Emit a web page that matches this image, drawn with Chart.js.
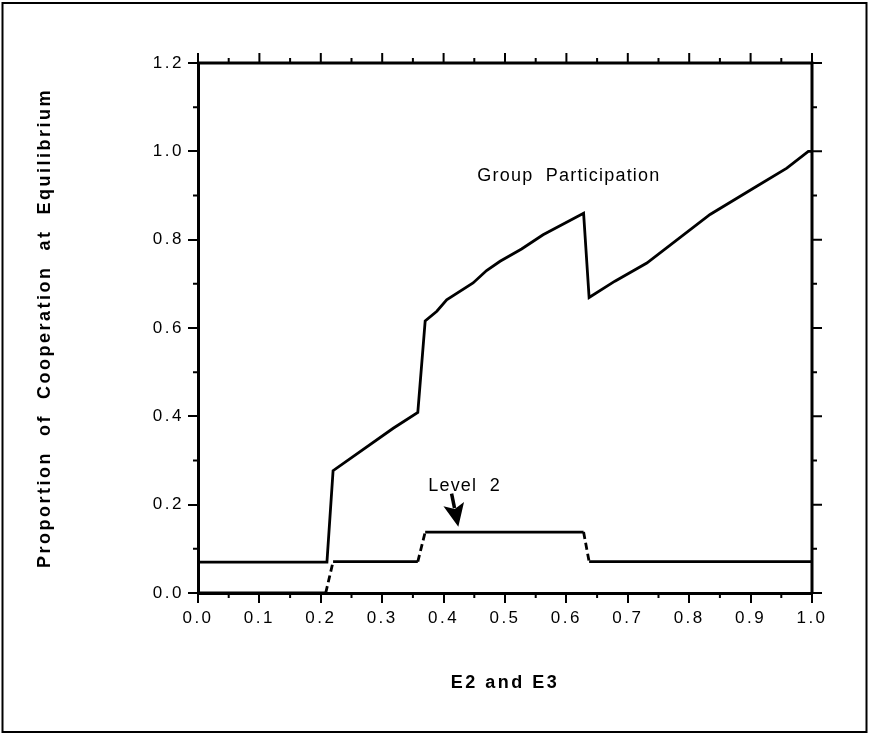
<!DOCTYPE html>
<html>
<head>
<meta charset="utf-8">
<script src="https://cdn.jsdelivr.net/npm/chart.js@4"></script>
<style>
  body { margin: 0; background: #fff; }
  #wrap { width: 872px; height: 735px; }
</style>
</head>
<body>
<div id="wrap"><canvas id="chart"></canvas></div>
<script>
// values
const groupX = [0, 0.21, 0.22, 0.318, 0.358, 0.37, 0.389, 0.405, 0.448, 0.47, 0.492, 0.527, 0.562, 0.628, 0.637, 0.679, 0.731, 0.834, 0.91, 0.959, 0.994, 1.0];
const groupY = [0.07, 0.07, 0.277, 0.373, 0.409, 0.616, 0.638, 0.664, 0.702, 0.73, 0.751, 0.779, 0.811, 0.86, 0.669, 0.706, 0.747, 0.857, 0.921, 0.962, 1.0, 1.0];
const level2X = [0, 0.208, 0.22, 0.358, 0.37, 0.628, 0.637, 1.0];
const level2Y = [0, 0, 0.071, 0.071, 0.138, 0.138, 0.071, 0.071];

const xTicks = [0, 0.1, 0.2, 0.3, 0.4, 0.5, 0.6, 0.7, 0.8, 0.9, 1.0];
const yTicks = [0, 0.2, 0.4, 0.6, 0.8, 1.0, 1.2];

// annotation anchors (data units)
const groupLabelAt = [0.455, 0.932];
const levelLabelAt = [0.375, 0.232];
const arrowFrom = [0.413, 0.225];
const arrowTo = [0.424, 0.150];

const toPts = (xs, ys) => xs.map((v, i) => ({ x: v, y: ys[i] }));

// extra ticks, top/right axis lines, labels and arrow, outer box
const decor = {
  id: 'decor',
  beforeDraw(chart) {
    chart.ctx.letterSpacing = '2.5px';
  },
  afterDatasetsDraw(chart) {
    const { ctx, chartArea: a, scales: { x, y } } = chart;
    ctx.save();
    ctx.letterSpacing = '0px';
    ctx.strokeStyle = '#000';
    ctx.lineWidth = 3;
    ctx.beginPath();
    ctx.moveTo(a.left, a.top);
    ctx.lineTo(a.right, a.top);
    ctx.lineTo(a.right, a.bottom);
    ctx.stroke();

    ctx.lineWidth = 2;
    ctx.beginPath();
    for (let i = 0; i < xTicks.length * 2 - 1; i++) {
      const px = x.getPixelForValue(i * 0.05);
      const len = i % 2 ? 5 : 10;
      ctx.moveTo(px, a.top);
      ctx.lineTo(px, a.top - len);
      if (i % 2) {
        ctx.moveTo(px, a.bottom);
        ctx.lineTo(px, a.bottom + len);
      }
    }
    for (let i = 0; i < yTicks.length * 2 - 1; i++) {
      const py = y.getPixelForValue(i * 0.1);
      const len = i % 2 ? 5 : 10;
      ctx.moveTo(a.right, py);
      ctx.lineTo(a.right + len, py);
      if (i % 2) {
        ctx.moveTo(a.left, py);
        ctx.lineTo(a.left - len, py);
      }
    }
    ctx.stroke();

    ctx.fillStyle = '#000';
    ctx.font = '18px "Liberation Sans", Arial, sans-serif';
    ctx.letterSpacing = '1.2px';
    ctx.textAlign = 'left';
    ctx.textBaseline = 'alphabetic';
    ctx.fillText('Group  Participation', x.getPixelForValue(groupLabelAt[0]), y.getPixelForValue(groupLabelAt[1]));
    ctx.fillText('Level  2', x.getPixelForValue(levelLabelAt[0]), y.getPixelForValue(levelLabelAt[1]));

    // arrow
    const x0 = x.getPixelForValue(arrowFrom[0]), y0 = y.getPixelForValue(arrowFrom[1]);
    const x1 = x.getPixelForValue(arrowTo[0]), y1 = y.getPixelForValue(arrowTo[1]);
    const ang = Math.atan2(y1 - y0, x1 - x0);
    const headLen = 23, headW = 10.5;
    const bx = x1 - headLen * Math.cos(ang), by = y1 - headLen * Math.sin(ang);
    ctx.lineWidth = 3.5;
    ctx.beginPath();
    ctx.moveTo(x0, y0);
    ctx.lineTo(bx + 4 * Math.cos(ang), by + 4 * Math.sin(ang));
    ctx.stroke();
    ctx.beginPath();
    ctx.moveTo(x1, y1);
    ctx.lineTo(bx + headW * Math.sin(ang), by - headW * Math.cos(ang));
    ctx.lineTo(bx + 5 * Math.cos(ang), by + 5 * Math.sin(ang));
    ctx.lineTo(bx - headW * Math.sin(ang), by + headW * Math.cos(ang));
    ctx.closePath();
    ctx.fill();
    ctx.restore();
    ctx.letterSpacing = '2.5px';
  },
  afterDraw(chart) {
    const ctx = chart.ctx;
    ctx.save();
    ctx.strokeStyle = '#000';
    ctx.lineWidth = 2;
    ctx.strokeRect(2.5, 3, 864, 729);
    ctx.restore();
    ctx.letterSpacing = '0px';
  }
};

const tickFont = { family: '"Liberation Sans", Arial, sans-serif', size: 17 };
const titleFont = { family: '"Liberation Sans", Arial, sans-serif', size: 18, weight: 'bold' };

new Chart(document.getElementById('chart'), {
  type: 'line',
  data: {
    datasets: [
      {
        label: 'Group Participation',
        data: toPts(groupX, groupY),
        borderColor: '#000',
        borderWidth: 2.8,
        pointRadius: 0,
        tension: 0
      },
      {
        label: 'Level 2',
        data: toPts(level2X, level2Y),
        borderColor: '#000',
        borderWidth: 2.8,
        pointRadius: 0,
        tension: 0,
        segment: {
          borderDash: c => Math.abs(c.p1.parsed.x - c.p0.parsed.x) < 0.02 ? [7, 4] : undefined
        }
      }
    ]
  },
  options: {
    responsive: true,
    maintainAspectRatio: false,
    animation: false,
    layout: { padding: { top: 63, right: 60, left: 0, bottom: 0 } },
    plugins: { legend: { display: false }, tooltip: { enabled: false } },
    scales: {
      x: {
        type: 'linear',
        min: 0,
        max: 1,
        afterBuildTicks: s => { s.ticks = xTicks.map(v => ({ value: v })); },
        afterFit: s => { s.height = 142; },
        grid: { drawOnChartArea: false, color: '#000', lineWidth: 2, tickLength: 10 },
        border: { color: '#000', width: 3 },
        ticks: { z: 1, color: '#000', font: tickFont, padding: 5, maxRotation: 0, callback: v => v.toFixed(1) },
        title: { display: true, text: 'E2 and E3', color: '#000', font: titleFont, padding: { bottom: 41 } }
      },
      y: {
        type: 'linear',
        min: 0,
        max: 1.2,
        afterBuildTicks: s => { s.ticks = yTicks.map(v => ({ value: v })); },
        afterFit: s => { s.width = 198; },
        grid: { drawOnChartArea: false, color: '#000', lineWidth: 2, tickLength: 10 },
        border: { color: '#000', width: 3 },
        ticks: { z: 1, color: '#000', font: tickFont, padding: 4, callback: v => v.toFixed(1) },
        title: { display: true, text: 'Proportion  of  Cooperation  at  Equilibrium', color: '#000', font: titleFont, padding: { top: 34 } }
      }
    }
  },
  plugins: [decor]
});
</script>
</body>
</html>
